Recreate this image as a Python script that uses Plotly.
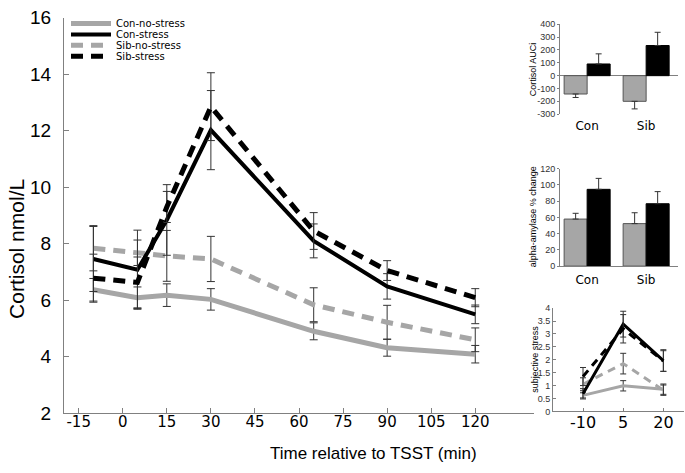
import plotly.graph_objects as go

W, H = 685, 473

# ---------------- data ----------------
times = [-10, 5, 15, 30, 65, 90, 120]
con_no = [6.37, 6.09, 6.18, 6.03, 4.90, 4.32, 4.09]
con_no_err = [0.40, 0.38, 0.40, 0.38, 0.30, 0.30, 0.31]
con_st = [7.46, 7.08, 8.84, 12.02, 8.10, 6.49, 5.50]
con_st_err = [1.15, 1.40, 1.25, 1.40, 0.60, 0.45, 0.33]
sib_no = [7.84, 7.68, 7.57, 7.46, 5.84, 5.22, 4.60]
sib_no_err = [0.80, 0.45, 0.90, 0.80, 0.60, 0.60, 0.42]
sib_st = [6.78, 6.63, 9.30, 12.85, 8.45, 7.05, 6.09]
sib_st_err = [0.85, 0.90, 0.55, 1.20, 0.65, 0.35, 0.32]

groups = ["Con", "Sib"]
auc_no = [-143, -200]
auc_no_err = [27, 59]
auc_st = [91, 235]
auc_st_err = [79, 103]

amy_no = [57.9, 52.3]
amy_no_err = [7.1, 13.4]
amy_st = [94.5, 76.8]
amy_st_err = [13.5, 14.9]

subj_t = [-10, 5, 20]
subj_con_no = [0.62, 0.99, 0.86]
subj_con_no_err = [0.10, 0.20, 0.20]
subj_con_st = [0.68, 3.38, 1.97]
subj_con_st_err = [0.20, 0.50, 0.42]
subj_sib_no = [1.05, 1.85, 0.82]
subj_sib_no_err = [0.25, 0.40, 0.20]
subj_sib_st = [1.35, 3.20, 1.95]
subj_sib_st_err = [0.35, 0.55, 0.40]

x_ticks = [-15, 0, 15, 30, 45, 60, 75, 90, 105, 120]
x_ticktext = ["-15", "0", "15", "30", "45", "60", "75", "90", "105", "120"]
y_ticks = [2, 4, 6, 8, 10, 12, 14, 16]
auc_ticks = [-300, -200, -100, 0, 100, 200, 300, 400]
auc_ticktext = ["-300", "-200", "-100", "0", "100", "200", "300", "400"]
subj_ticktext = ["-10", "5", "20"]

GRAY = "#a6a6a6"
BLACK = "#000000"
ERRC = "#333333"
AXC = "#808080"

def px(x):
    return x / W

def py(y):
    return 1 - y / H

fig = go.Figure()

def err(arr, w=4):
    return dict(type="data", array=arr, color=ERRC, thickness=1, width=w, visible=True)

series = [
    ("Con-no-stress", con_no, con_no_err, GRAY, 5, "solid", "legend"),
    ("Sib-no-stress", sib_no, sib_no_err, GRAY, 5, "12px,8px", "legend3"),
    ("Con-stress", con_st, con_st_err, BLACK, 4, "solid", "legend2"),
    ("Sib-stress", sib_st, sib_st_err, BLACK, 5, "12px,8px", "legend4"),
]
for name, ys, es, col, w, dash, lg in series:
    fig.add_trace(go.Scatter(
        x=times, y=ys, mode="lines", name=name, legend=lg,
        line=dict(color=col, width=w, dash=dash),
        error_y=err(es), xaxis="x", yaxis="y"))

fig.add_trace(go.Bar(x=groups, y=auc_no, marker=dict(color=GRAY, line=dict(color="#555", width=1)),
                     error_y=dict(type="data", symmetric=False, array=[0, 0], arrayminus=auc_no_err,
                                  color=ERRC, thickness=1, width=3),
                     showlegend=False, xaxis="x2", yaxis="y2"))
fig.add_trace(go.Bar(x=groups, y=auc_st, marker=dict(color=BLACK, line=dict(color="#000", width=1)),
                     error_y=dict(type="data", symmetric=False, array=auc_st_err, arrayminus=[0, 0],
                                  color=ERRC, thickness=1, width=3),
                     showlegend=False, xaxis="x2", yaxis="y2"))
fig.add_trace(go.Bar(x=groups, y=amy_no, marker=dict(color=GRAY, line=dict(color="#555", width=1)),
                     error_y=dict(type="data", symmetric=False, array=amy_no_err, arrayminus=[0, 0],
                                  color=ERRC, thickness=1, width=3),
                     showlegend=False, xaxis="x3", yaxis="y3"))
fig.add_trace(go.Bar(x=groups, y=amy_st, marker=dict(color=BLACK, line=dict(color="#000", width=1)),
                     error_y=dict(type="data", symmetric=False, array=amy_st_err, arrayminus=[0, 0],
                                  color=ERRC, thickness=1, width=3),
                     showlegend=False, xaxis="x3", yaxis="y3"))
sub = [
    (subj_con_no, subj_con_no_err, GRAY, "solid"),
    (subj_sib_no, subj_sib_no_err, GRAY, "8px,6px"),
    (subj_con_st, subj_con_st_err, BLACK, "solid"),
    (subj_sib_st, subj_sib_st_err, BLACK, "8px,6px"),
]
for ys, es, col, dash in sub:
    fig.add_trace(go.Scatter(x=subj_t, y=ys, mode="lines", showlegend=False,
                             line=dict(color=col, width=3, dash=dash),
                             error_y=err(es, 3), xaxis="x4", yaxis="y4"))

small = dict(family="Liberation Sans, Arial", size=9, color="#333")

def leg(ytop):
    return dict(x=px(66), y=py(ytop), xanchor="left", yanchor="top",
                font=dict(family="DejaVu Sans", size=10, color="#000"),
                bgcolor="rgba(0,0,0,0)", itemwidth=40)

fig.update_layout(
    width=W, height=H, margin=dict(l=0, r=0, t=0, b=0),
    paper_bgcolor="white", plot_bgcolor="white",
    barmode="group", bargap=0.22, bargroupgap=0,
    showlegend=True,
    legend=leg(-1), legend2=leg(10.4), legend3=leg(21.8), legend4=leg(33.2),
    xaxis=dict(domain=[px(64), px(534)], range=[-20, 140], tickvals=x_ticks, ticktext=x_ticktext,
               showline=True, linecolor=AXC, linewidth=1, ticks="inside", ticklen=5,
               tickcolor=AXC, showgrid=False, zeroline=False,
               tickfont=dict(family="DejaVu Sans", size=15, color="#000"), anchor="y",
               ticklabelstandoff=-5),
    yaxis=dict(domain=[py(422), py(8)], range=[2, 16], tickvals=y_ticks,
               showline=True, linecolor=AXC, linewidth=1, ticks="inside", ticklen=5,
               tickcolor=AXC, showgrid=False, zeroline=False,
               tickfont=dict(family="Liberation Sans, Arial", size=19, color="#000"),
               ticklabelstandoff=8, anchor="x"),
    xaxis2=dict(domain=[px(560), px(678)], range=[-0.46, 1.54], type="category",
                showline=False, ticks="", showgrid=False, zeroline=False,
                tickfont=dict(family="DejaVu Sans", size=12, color="#000"), anchor="y2",
                ticklabelstandoff=3),
    yaxis2=dict(domain=[py(109), py(15)], range=[-300, 400], tickvals=auc_ticks, ticktext=auc_ticktext,
                showline=True, linecolor=AXC, ticks="outside", ticklen=2, tickcolor=AXC,
                showgrid=False, zeroline=True, zerolinecolor=AXC, zerolinewidth=1,
                tickfont=small, anchor="x2"),
    xaxis3=dict(domain=[px(560), px(678)], range=[-0.46, 1.54], type="category",
                showline=True, linecolor=AXC, ticks="", showgrid=False, zeroline=False,
                tickfont=dict(family="DejaVu Sans", size=12, color="#000"), anchor="y3",
                ticklabelstandoff=2),
    yaxis3=dict(domain=[py(268), py(166)], range=[0, 120], dtick=20,
                showline=True, linecolor=AXC, ticks="outside", ticklen=2, tickcolor=AXC,
                showgrid=False, zeroline=False, tickfont=small, anchor="x3"),
    xaxis4=dict(domain=[px(553), px(684)], range=[-21.2, 27.7], tickvals=subj_t, ticktext=subj_ticktext,
                showline=True, linecolor=AXC, ticks="inside", ticklen=3, tickcolor=AXC,
                showgrid=False, zeroline=False,
                tickfont=dict(family="DejaVu Sans", size=16, color="#000"), anchor="y4",
                ticklabelstandoff=-4),
    yaxis4=dict(domain=[py(420), py(312)], range=[0, 4], dtick=0.5,
                showline=True, linecolor=AXC, ticks="inside", ticklen=3, tickcolor=AXC,
                showgrid=False, zeroline=False, tickfont=small, anchor="x4"),
)

annots = [
    dict(text="Cortisol nmol/L", x=px(17), y=py(250), textangle=-90,
         font=dict(family="Liberation Sans, Arial", size=21, color="#000")),
    dict(text="Time relative to TSST (min)", x=px(373), y=py(464),
         font=dict(family="Liberation Sans, Arial", size=17, color="#000")),
    dict(text="Cortisol AUCi", x=px(533), y=py(62), textangle=-90,
         font=dict(family="Liberation Sans, Arial", size=9, color="#000")),
    dict(text="alpha-amylase % change", x=px(533), y=py(217), textangle=-90,
         font=dict(family="Liberation Sans, Arial", size=9, color="#000")),
    dict(text="subjective stress", x=px(535), y=py(366), textangle=-90,
         font=dict(family="Liberation Sans, Arial", size=9, color="#000")),
]
for a in annots:
    fig.add_annotation(xref="paper", yref="paper", showarrow=False,
                       xanchor="center", yanchor="middle", **a)

fig.write_html("out.html", config={"displayModeBar": False},
               post_script="document.body.style.margin='0';document.body.style.overflow='hidden';")
